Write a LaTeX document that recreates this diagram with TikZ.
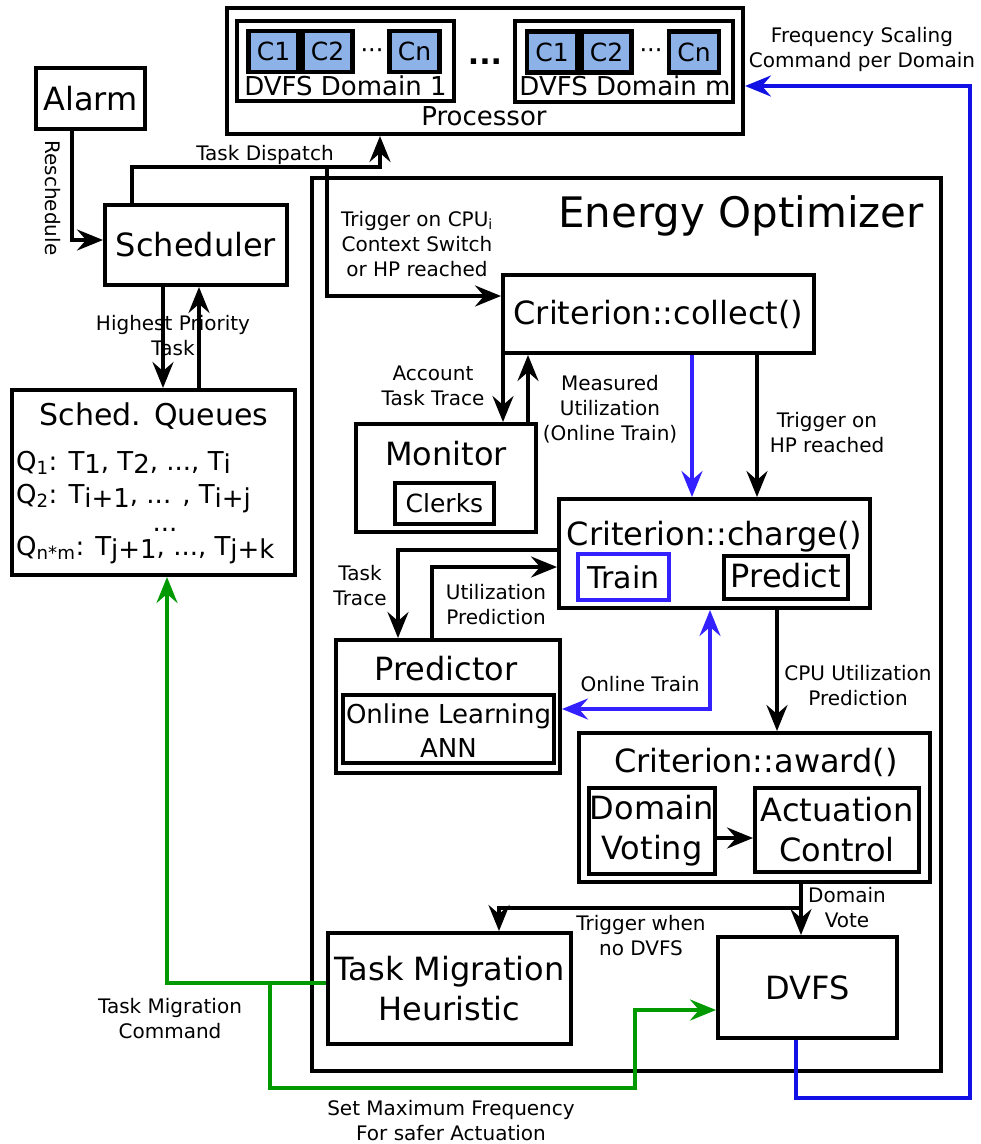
\documentclass[tikz,border=0pt]{standalone}
\usepackage{fontspec}
\setmainfont{DejaVu Sans}
\usetikzlibrary{arrows.meta}
\definecolor{coreblue}{RGB}{141,178,232}
\definecolor{trainblue}{RGB}{51,34,255}
\definecolor{cmdblue}{RGB}{17,17,230}
\definecolor{migreen}{RGB}{0,153,0}
% lowered index at full size, as used in the queue listing
\newcommand\lowidx[2][4pt]{\raisebox{-#1}{#2}}
\begin{document}
\begin{tikzpicture}[x=1pt,y=-1pt,
  box/.style={draw,line width=4pt,inner sep=0pt},
  core/.style={box,fill=coreblue,line width=4.5pt,minimum width=50pt,minimum height=41pt,font=\fontsize{25}{28}\selectfont},
  big/.style={font=\fontsize{32}{40}\selectfont,align=center},
  mid/.style={font=\fontsize{26}{30}\selectfont},
  lbl/.style={font=\fontsize{20}{25}\selectfont,align=center,inner sep=0pt},
  arr/.style={line width=3.6pt,-{Stealth[length=26pt,width=21pt,inset=9pt]}},
  barr/.style={arr,draw=trainblue},
  carr/.style={arr,draw=cmdblue},
  garr/.style={arr,draw=migreen},
]
\useasboundingbox (0,0) rectangle (981,1144);

% ---------------- Processor ----------------
\node[box,minimum width=516pt,minimum height=126pt] (proc) at (485,71) {};
\node[mid,anchor=base] (proctxt) at (484,125) {Processor};
\node[box,minimum width=217pt,minimum height=80pt] (dom1) at (345.5,61) {};
\node[core] (d1c1) at (273.5,51.5) {C1};
\node[core] (d1c2) at (327.5,51.5) {C2};
\node[core] (d1cn) at (414.5,51.5) {Cn};
\node[font=\fontsize{24}{28}\selectfont,anchor=base] (d1dots) at (372,58) {···};
\node[mid,anchor=base] (d1txt) at (345.5,95) {DVFS Domain 1};
\node[font=\fontsize{30}{34}\selectfont\bfseries,anchor=base] (domdots) at (485,64) {...};
\node[box,minimum width=218pt,minimum height=81pt] (domm) at (624,61.5) {};
\node[core] (dmc1) at (552,52) {C1};
\node[core] (dmc2) at (606.5,52) {C2};
\node[core] (dmcn) at (694,52) {Cn};
\node[font=\fontsize{24}{28}\selectfont,anchor=base] (dmdots) at (651,58) {···};
\node[mid,anchor=base] (dmtxt) at (625,95) {DVFS Domain m};

% ---------------- Scheduling side ----------------
\node[box,big,minimum width=109pt,minimum height=61pt] (alarm) at (90.5,98.5) {Alarm};
\node[box,big,minimum width=182pt,minimum height=80pt] (scheduler) at (196,245) {Scheduler};
\node[box,minimum width=283pt,minimum height=185pt] (queues) at (153.5,482.5) {};
\node[font=\fontsize{30}{34}\selectfont,anchor=base] (qtitle) at (154,425) {Sched. Queues};
\node[font=\fontsize{26}{30}\selectfont,anchor=base west,inner sep=0pt] (q1) at (16,470)
  {Q\textsubscript{1}: T\lowidx[3pt]{1}, T\lowidx[3pt]{2}, ..., T\lowidx[3pt]{i}};
\node[font=\fontsize{26}{30}\selectfont,anchor=base west,inner sep=0pt] (q2) at (16,503)
  {Q\textsubscript{2}: T\lowidx[4pt]{i+1}, ... , T\lowidx[4pt]{i+j}};
\node[font=\fontsize{26}{30}\selectfont,anchor=base] (qdots) at (165,531) {...};
\node[font=\fontsize{26}{30}\selectfont,anchor=base west,inner sep=0pt] (q3) at (16,555)
  {Q\textsubscript{n*m}: T\lowidx[3pt]{j+1}, ..., T\lowidx[3pt]{j+k}};

% ---------------- Energy optimizer ----------------
\node[box,minimum width=629pt,minimum height=893pt] (energy) at (626.5,624.5) {};
\node[font=\fontsize{42}{48}\selectfont,anchor=base] (etitle) at (741,227) {Energy Optimizer};

\node[box,minimum width=311pt,minimum height=78pt,font=\fontsize{32}{38}\selectfont] (collect) at (658.5,314) {Criterion::collect()};

\node[box,minimum width=180pt,minimum height=108pt] (monitor) at (446,478) {};
\node[font=\fontsize{32}{38}\selectfont,anchor=base] (montxt) at (446,465) {Monitor};
\node[box,minimum width=99pt,minimum height=41pt,font=\fontsize{25}{30}\selectfont] (clerks) at (444.5,503) {Clerks};

\node[box,minimum width=311pt,minimum height=109pt] (charge) at (714.5,553.5) {};
\node[font=\fontsize{32}{38}\selectfont,anchor=base] (chtxt) at (714.5,545) {Criterion::charge()};
\node[box,draw=trainblue,minimum width=91pt,minimum height=46pt] (train) at (623.5,577) {};
\node[font=\fontsize{30}{36}\selectfont,anchor=base] (traintxt) at (623.5,588) {Train};
\node[box,minimum width=124pt,minimum height=43pt] (predict) at (786,577.5) {};
\node[font=\fontsize{32}{38}\selectfont,anchor=base] (predtxt) at (786,587) {Predict};

\node[box,minimum width=224pt,minimum height=133pt] (predictor) at (448,706.5) {};
\node[font=\fontsize{32}{38}\selectfont,anchor=base] (prtxt) at (446,680) {Predictor};
\node[box,minimum width=211pt,minimum height=68pt] (ann) at (448.5,729) {};
\node[font=\fontsize{26}{34}\selectfont,anchor=base] (anntxt1) at (448.5,723) {Online Learning};
\node[font=\fontsize{26}{34}\selectfont,anchor=base] (anntxt2) at (448.5,757) {ANN};

\node[box,minimum width=351pt,minimum height=149pt] (award) at (754.5,807.5) {};
\node[font=\fontsize{32}{38}\selectfont,anchor=base] (awtxt) at (756,772) {Criterion::award()};
\node[box,big,minimum width=126pt,minimum height=86pt] (voting) at (652,831) {Domain\\Voting};
\node[box,big,minimum width=164pt,minimum height=84pt] (actuation) at (837,830) {Actuation\\Control};

\node[box,big,minimum width=243pt,minimum height=111pt] (taskmig) at (449.5,988.5) {Task Migration\\Heuristic};
\node[box,big,minimum width=179pt,minimum height=101pt] (dvfs) at (807.5,987.5) {DVFS};

% ---------------- Labels ----------------
\node[lbl,rotate=-90] (lresched) at (53,198) {Reschedule};
\node[lbl] (ldispatch) at (265,155) {Task Dispatch};
\node[lbl] (lprio) at (173,336) {Highest Priority\\Task};
\node[lbl] (ltrigcpu) at (417,244) {Trigger on CPU\textsubscript{i}\\Context Switch\\or HP reached};
\node[lbl] (laccount) at (433,386) {Account\\Task Trace};
\node[lbl] (lmeasured) at (610,409) {Measured\\Utilization\\(Online Train)};
\node[lbl] (ltrighp) at (827,433) {Trigger on\\HP reached};
\node[lbl] (ltrace) at (360,586) {Task\\Trace};
\node[lbl] (lutil) at (496,605) {Utilization\\Prediction};
\node[lbl] (lonline) at (640,684) {Online Train};
\node[lbl] (lcpu) at (858,686) {CPU Utilization\\Prediction};
\node[lbl] (lvote) at (847,908) {Domain\\Vote};
\node[lbl] (lnodvfs) at (641,936) {Trigger when\\no DVFS};
\node[lbl] (lmigcmd) at (170,1019) {Task Migration\\Command};
\node[lbl] (lmaxfreq) at (451,1121) {Set Maximum Frequency\\For safer Actuation};
\node[lbl] (lfreq) at (862,49) {Frequency Scaling\\Command per Domain};

% ---------------- Connectors ----------------
\draw[arr] (alarm.south -| 72,0) |- (scheduler.west |- 0,240);
\draw[arr] (scheduler.north -| 132,0) |- (380,167) -- (proc.south -| 380,0);
\coordinate (cpuTap) at (327,167);
\draw[arr] (cpuTap) |- (collect.west |- 0,296);
\draw[arr] (scheduler.south -| 163,0) -- (queues.north -| 163,0);
\draw[arr] (queues.north -| 199,0) -- (scheduler.south -| 199,0);

\draw[arr] (collect.south -| 503,0) -- (monitor.north -| 503,0);
\draw[arr] (monitor.north -| 528,0) -- (collect.south -| 528,0);
\draw[barr] (collect.south -| 692,0) -- (charge.north -| 692,0);
\draw[arr] (collect.south -| 757,0) -- (charge.north -| 757,0);

\draw[arr] (charge.west |- 0,550) -| (predictor.north -| 398,0);
\draw[arr] (predictor.north -| 432,0) |- (charge.west |- 0,567);
\draw[barr,{Stealth[length=26pt,width=21pt,inset=9pt]}-{Stealth[length=26pt,width=21pt,inset=9pt]}]
  (charge.south -| 710,0) |- (predictor.east |- 0,709);
\draw[arr] (charge.south -| 777,0) -- (award.north -| 777,0);

\draw[arr] (voting.east |- 0,838) -- (actuation.west |- 0,838);
\draw[arr] (award.south -| 801,0) -- (dvfs.north -| 801,0);
\coordinate (voteTap) at (801,908);
\draw[arr] (voteTap) -| (taskmig.north -| 499,0);

\draw[garr] (taskmig.west |- 0,983) -| (queues.south -| 167,0);
\coordinate (migTap) at (270,983);
\draw[garr] (migTap) |- (635,1088) |- (dvfs.west |- 0,1010);
\draw[carr] (dvfs.south -| 796,0) |- (970,1098) |- (proc.east |- 0,86);
\end{tikzpicture}
\end{document}
